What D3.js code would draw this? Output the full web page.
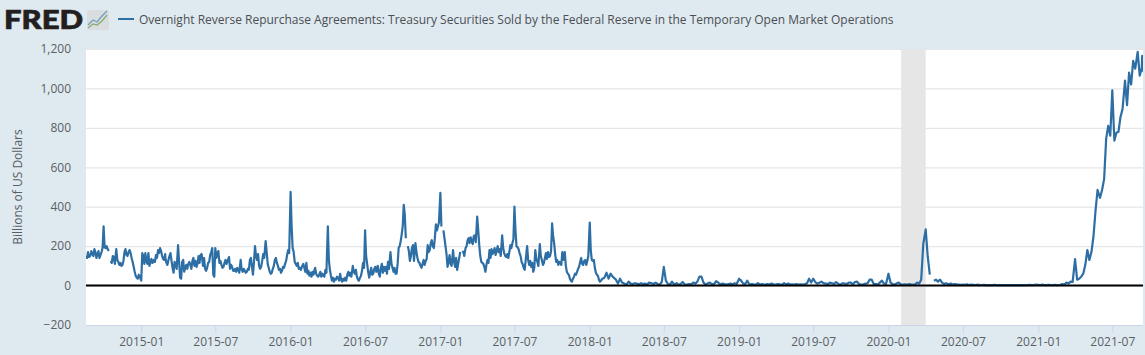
<!DOCTYPE html>
<html><head><meta charset="utf-8">
<script src="https://cdnjs.cloudflare.com/ajax/libs/d3/7.8.5/d3.min.js"></script>
<style>html,body{margin:0;padding:0;background:#dfe9f0;overflow:hidden}svg{display:block}</style>
</head><body><div id="c"></div>
<script>
const chartTitle = "Overnight Reverse Repurchase Agreements: Treasury Securities Sold by the Federal Reserve in the Temporary Open Market Operations";
const yAxisTitle = "Billions of US Dollars";
const yTicks = [-200,0,200,400,600,800,1000,1200];
const xTickLabels = ["2015-01","2015-07","2016-01","2016-07","2017-01","2017-07","2018-01","2018-07","2019-01","2019-07","2020-01","2020-07","2021-01","2021-07"];
const xDomain = ["2014-08-19","2021-09-14"];
const recession = ["2020-02-01","2020-04-01"];
const fineUntil = "2018-02-01"; // readings every 60 hours before this date, every 120 hours after
const fineHours = 60, coarseHours = 120;
const runStarts = ["2014-08-19","2014-09-01","2014-10-01","2014-11-01","2014-12-01",
"2015-01-01","2015-02-01","2015-03-01","2015-04-01","2015-05-01","2015-06-01","2015-07-01","2015-08-01","2015-09-01","2015-10-01","2015-11-01","2015-12-01",
"2016-01-01","2016-02-01","2016-03-01","2016-04-01","2016-05-01","2016-06-01","2016-07-01","2016-08-01","2016-09-01","2016-10-01","2016-11-01","2016-12-01",
"2017-01-01","2017-02-01","2017-03-01","2017-04-01","2017-05-01","2017-06-01","2017-07-01","2017-08-01","2017-09-01","2017-10-01","2017-11-01","2017-12-01",
"2018-01-01","2018-02-01","2018-03-01","2018-04-01","2018-05-01","2018-06-01","2018-07-01","2018-08-01","2018-09-01","2018-10-01","2018-11-01","2018-12-01",
"2019-01-01","2019-02-01","2019-03-01","2019-04-01","2019-05-01","2019-06-01","2019-07-01","2019-08-01","2019-09-01","2019-10-01","2019-11-01","2019-12-01",
"2020-01-01","2020-02-01","2020-03-01","2020-04-01","2020-05-01","2020-06-01","2020-07-01","2020-08-01","2020-09-01","2020-10-01","2020-11-01","2020-12-01",
"2021-01-01","2021-02-01","2021-03-01","2021-04-01","2021-05-01","2021-06-01","2021-07-01","2021-08-01","2021-09-01","2021-09-12","2021-09-14"];
const runValues = [
[150,140,170,145,150,165],
[175,160,150,185,170,140,160,175,140,155,170,190],
[300,195,190,200,185,175,null,125,115,150,145,110],
[185,130,120,105,115,100,105,125,170,185,155,150],
[170,180,165,140,120,95,70,50,40,35,55,45],
[25,165,150,110,165,125,110,165,100,120,135,115],
[130,120,155,140,180,165,190,175,150,135,130,160],
[140,115,105,130,150,165,125,90,65,120,105,85],
[205,120,40,35,120,130,70,90,105,85,110,120],
[105,85,125,140,100,125,95,110,150,115,155,160],
[100,140,85,75,90,115,120,155,170,190,55,45],
[190,140,165,175,115,125,105,90,95,115,130,110],
[130,145,85,105,95,75,75,85,70,90,80,65],
[130,80,70,85,75,65,70,85,80,130,140,95],
[55,120,200,150,130,160,100,85,95,125,160,140],
[225,170,110,90,70,60,65,85,100,130,140,115],
[100,80,85,65,75,95,90,110,125,155,180,165],
[475,300,190,170,120,110,100,115,85,90,80,95],
[110,90,70,115,60,75,50,65,45,70,55,80],
[90,60,50,45,55,70,45,60,50,45,80,65],
[300,130,80,50,25,40,20,35,30,45,40,25],
[60,30,20,35,25,40,25,55,70,50,65,45],
[100,70,60,80,45,30,25,40,50,75,115,90],
[280,150,110,70,40,65,90,55,60,85,95,70],
[100,60,45,90,110,65,95,75,95,60,120,85],
[170,110,90,70,90,60,60,110,190,200,225,260],
[300,410,360,240,null,200,175,125,150,190,205,125],
[215,170,140,120,115,100,90,110,130,105,125,135],
[205,170,180,215,230,200,190,240,310,280,300,320],
[470,300,null,280,240,200,160,95,120,155,110,100],
[180,120,95,140,80,110,140,170,null,175,170,150],
[160,190,200,230,240,215,245,225,210,250,255,220],
[350,280,205,150,120,115,110,95,70,105,130,115],
[180,140,185,160,170,190,155,175,200,170,185,150],
[255,190,165,150,145,160,140,170,205,190,215,235],
[400,280,200,195,185,165,150,120,110,90,80,130],
[200,130,105,125,95,115,70,90,180,135,120,100],
[210,150,130,105,115,140,165,135,170,145,150,175],
[315,250,215,160,120,130,105,120,115,105,170,130],
[170,100,70,60,55,35,25,20,35,45,60,55],
[70,85,95,120,140,110,105,125,130,105,125,150],
[320,180,130,125,130,90,65,55,50,30,20,25],
[35,40,65,35,60,45],[40,30,10,35,15,10],[5,20,10,8,12,10],[6,12,8,10,5,15],[12,8,15,8,5,18],[95,25,8,5,20,6],[12,5,8,18,6,5],[8,6,15,10,20,45],[45,15,5,10,15,8],[8,22,15,5,10,8],[5,8,10,6,12,8],
[35,25,10,8,25,5],[8,6,5,12,5,8],[6,5,8,5,10,6],[5,8,6,5,12,5],[10,5,6,5,8,5],[6,5,8,12,35,15],[35,18,10,14,20,12],[10,8,15,12,8,18],[8,5,12,10,8,15],[15,6,18,20,8,5],[6,10,12,30,30,8],[8,5,15,25,10,8],
[60,15,8,5,10,15],[5,5,6,5,8,5],[5,5,15,10,30,210],[285,145,55,null,25,30],[20,30,15,8,12,6],[10,5,8,6,5,4],[5,4,6,3,5,4],[3,5,2,3,4,2],[2,3,2,4,2,3],[2,3,2,2,3,2],[2,3,2,2,3,2],[3,2,4,2,3,5],
[4,3,5,3,2,4],[3,2,4,2,3,5],[8,5,15,10,20,18],[134,30,35,45,60,105],[180,130,170,250,380,485],[445,485,540,745,810,760],[990,735,775,780,855,895],[1040,915,1080,1020,1140,1100],[1185,1065,1105],[1165],[1085]
];

const W = 1145, H = 355;
const m = {left:86, right:1143, top:49, bottom:325};
const parseDay = d3.utcParse("%Y-%m-%d"), parseMonth = d3.utcParse("%Y-%m");
const series = runStarts.flatMap((s,i)=>{
  const start = parseDay(s), hours = start < parseDay(fineUntil) ? fineHours : coarseHours;
  return runValues[i].map((v,k)=>({date:d3.utcHour.offset(start,k*hours),value:v}));
});

const x = d3.scaleUtc().domain(xDomain.map(parseDay)).range([m.left,m.right]);
const y = d3.scaleLinear().domain([-200,1200]).range([m.bottom,m.top]);

const svg = d3.select("#c").append("svg").attr("width",W).attr("height",H).style("font-family","'Open Sans',sans-serif");
svg.append("rect").attr("width",W).attr("height",H).attr("fill","#dfe9f0");
svg.append("rect").attr("x",m.left).attr("y",m.top).attr("width",m.right-m.left).attr("height",m.bottom-m.top).attr("fill","#fff");
svg.append("defs").append("clipPath").attr("id","pc").append("rect").attr("x",m.left).attr("y",m.top-1).attr("width",m.right-m.left).attr("height",m.bottom-m.top+1);

svg.append("rect").attr("x",x(parseDay(recession[0]))).attr("y",m.top).attr("width",x(parseDay(recession[1]))-x(parseDay(recession[0]))).attr("height",m.bottom-m.top).attr("fill","#e6e6e6");

const gy = svg.append("g").attr("transform",`translate(${m.left},0)`)
  .call(d3.axisLeft(y).tickValues(yTicks).tickFormat(d3.format(",")).tickSize(0).tickPadding(15));
gy.select(".domain").remove();
gy.selectAll("text").attr("fill","#5a5f63").style("font-size","12px").style("font-family","'Open Sans',sans-serif");
gy.selectAll("line").attr("x2",m.right-m.left).attr("stroke","#e6e6e6").attr("stroke-width",1.2);

const gx = svg.append("g").attr("transform",`translate(0,${m.bottom})`)
  .call(d3.axisBottom(x).tickValues(xTickLabels.map(parseMonth)).tickFormat(d3.utcFormat("%Y-%m")).tickSize(8).tickPadding(4));
gx.select(".domain").attr("stroke","#ccd6eb").attr("d",`M${m.left},0.5H${m.right}`);
gx.selectAll("line").attr("stroke","#ccd6eb");
gx.selectAll("text").attr("fill","#5a5f63").style("font-size","12px").style("font-family","'Open Sans',sans-serif");

const line = d3.line().defined(d=>d.value!==null).x(d=>x(d.date)).y(d=>y(d.value));
svg.append("path").datum(series).attr("clip-path","url(#pc)").attr("d",line).attr("fill","none").attr("stroke","#2d6fa5").attr("stroke-width",2.2).attr("stroke-linejoin","round");

svg.append("line").attr("x1",m.left).attr("x2",m.right).attr("y1",y(0)).attr("y2",y(0)).attr("stroke","#000").attr("stroke-width",2);

svg.append("text").attr("transform",`translate(22,187) rotate(-90)`).attr("text-anchor","middle").attr("fill","#5a5f63").style("font-size","12px").text(yAxisTitle);

svg.append("text").attr("x",4).attr("y",29).attr("textLength",79).attr("lengthAdjust","spacingAndGlyphs").attr("fill","#231f20").attr("stroke","#231f20").attr("stroke-width",0.7).style("font-family","Lato,sans-serif").style("font-weight",900).style("font-size","27px").text("FRED");
const logo = svg.append("g").attr("transform","translate(87,10)");
logo.append("rect").attr("width",22).attr("height",20).attr("rx",1.5).attr("fill","#d9dde0");
logo.append("path").attr("d","M1,15L6,10L10,12L15,6L20,1").attr("fill","none").attr("stroke","#6f9bc0").attr("stroke-width",1.2);
logo.append("path").attr("d","M1,18L6,14L10,15L15,11L20,5").attr("fill","none").attr("stroke","#86ab6e").attr("stroke-width",1.2);
svg.append("line").attr("x1",118).attr("x2",134).attr("y1",19).attr("y2",19).attr("stroke","#2d6fa5").attr("stroke-width",2);
svg.append("text").attr("x",139).attr("y",24).attr("fill","#4b4f53").style("font-size","12px").text(chartTitle);
</script></body></html>
